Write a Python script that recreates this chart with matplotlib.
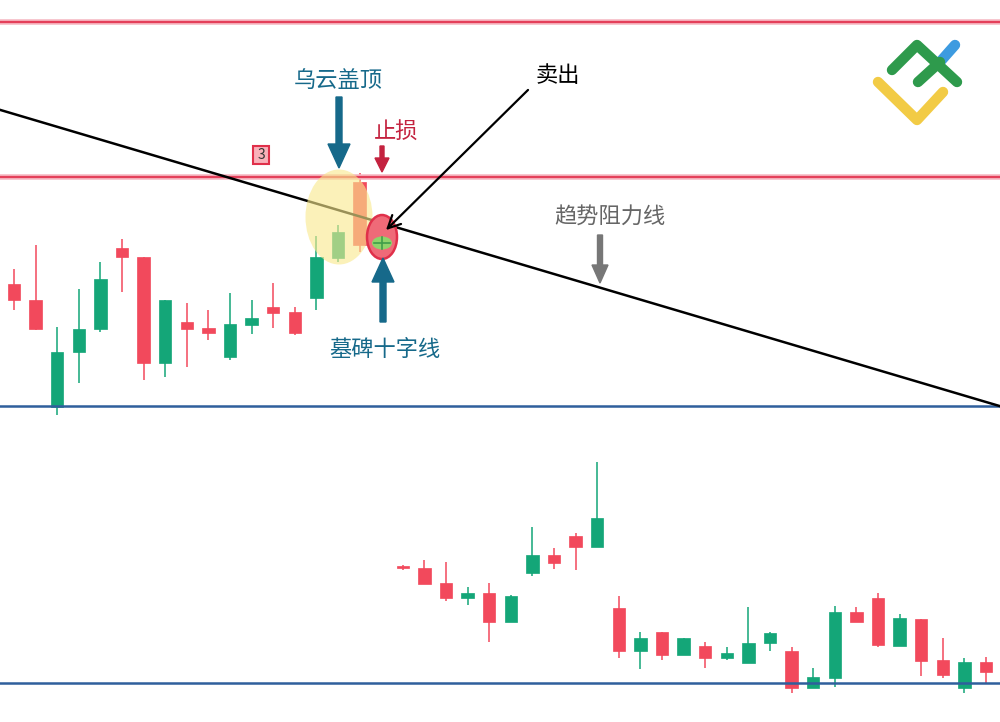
import matplotlib
matplotlib.use('Agg')
import matplotlib.pyplot as plt
import matplotlib.patches as patches

plt.rcParams['font.family'] = ['Noto Sans CJK SC', 'DejaVu Sans']

# candle data (price units), one row per bar
opens = [438, 422, 315, 370, 393, 474, 465, 359, 400, 394, 365, 397, 415, 410, 424, 464, 540, 479,
         156, 154, 139, 124, 129, 100, 149, 167, 186, 175, 114, 71, 90, 67, 76, 64, 59, 79,
         71, 34, 44, 110, 124, 76, 103, 62, 34, 60]
highs = [453, 477, 395, 433, 460, 483, 465, 422, 419, 412, 429, 422, 439, 415, 486, 497, 549, 486,
         157, 162, 160, 135, 139, 127, 195, 174, 189, 260, 126, 90, 90, 84, 80, 75, 115, 90,
         75, 54, 116, 115, 129, 108, 103, 84, 64, 65]
lows = [412, 392, 307, 339, 390, 430, 342, 345, 355, 382, 362, 388, 394, 387, 412, 460, 470, 472,
        152, 138, 121, 117, 80, 100, 146, 153, 152, 175, 64, 53, 62, 67, 54, 62, 59, 71,
        29, 34, 35, 100, 75, 76, 46, 44, 29, 39]
closes = [422, 393, 370, 393, 443, 465, 359, 422, 393, 389, 398, 404, 409, 389, 465, 490, 477, 480,
          154, 138, 124, 129, 100, 126, 167, 159, 175, 204, 71, 84, 67, 84, 64, 69, 79, 89,
          34, 45, 110, 100, 77, 104, 61, 47, 60, 50]

resistance_levels = [700, 545]
support_levels = [316, 39]
trend_points = [(0, 608), (45, 320)]

labels = {'cloud': '乌云盖顶', 'stop': '止损', 'sell': '卖出',
          'trend': '趋势阻力线', 'doji': '墓碑十字线', 'num': '3'}

RED = '#f2495c'
GREEN = '#14a678'

fig = plt.figure(figsize=(10, 7.22), dpi=100)
ax = fig.add_axes([0, 0, 1, 1])
ax.set_xlim(-14 / 21.6, (1000 - 14) / 21.6)
ax.set_ylim(0, 722)
ax.axis('off')

for i in range(len(opens)):
    o, h, l, c = opens[i], highs[i], lows[i], closes[i]
    col = GREEN if c >= o else RED
    ax.plot([i, i], [l, h], color=col, lw=1.1, zorder=2, solid_capstyle='butt')
    ax.add_patch(patches.Rectangle((i - 0.29, min(o, c)), 0.58, max(abs(c - o), 1.5),
                                   facecolor=col, edgecolor=col, lw=0.5, zorder=3))

for lv in resistance_levels:
    ax.axhline(lv, color='#f6b8c2', lw=4, zorder=4)
    ax.axhline(lv, color='#e4405a', lw=1.6, zorder=5)
for lv in support_levels:
    ax.axhline(lv, color='#2f5f9c', lw=1.8, zorder=5)
ax.axline(trend_points[0], trend_points[1], color='black', lw=1.8, zorder=6)

# annotation overlay in pixel coordinates
ov = fig.add_axes([0, 0, 1, 1])
ov.set_xlim(0, 1000)
ov.set_ylim(722, 0)
ov.axis('off')

ov.add_patch(patches.Ellipse((339, 217), 67, 95, facecolor='#f9e98e', alpha=0.62,
                             edgecolor='none', zorder=3))
ov.add_patch(patches.Ellipse((382, 237), 30, 44, facecolor='#ef6a78',
                             edgecolor='#e0304a', lw=1.8, zorder=4))
ov.add_patch(patches.Ellipse((382, 243), 20, 13, facecolor='#8fd36a', edgecolor='none', zorder=5))
ov.plot([374, 390], [243, 243], color='#3f9e4a', lw=1.2, zorder=6)
ov.plot([382, 382], [237, 249], color='#3f9e4a', lw=1.2, zorder=6)

TEAL = '#16698a'
ov.add_patch(patches.FancyArrow(339, 97, 0, 71, width=6, head_width=22, head_length=24,
                                length_includes_head=True, color=TEAL, zorder=7))
ov.add_patch(patches.FancyArrow(383, 322, 0, -64, width=6, head_width=22, head_length=24,
                                length_includes_head=True, color=TEAL, zorder=7))
ov.add_patch(patches.FancyArrow(382, 146, 0, 26, width=4, head_width=14, head_length=14,
                                length_includes_head=True, color='#c4223f', zorder=7))
ov.add_patch(patches.FancyArrow(600, 235, 0, 48, width=5, head_width=16, head_length=18,
                                length_includes_head=True, color='#777777', zorder=7))
ov.annotate('', xy=(384, 232), xytext=(530, 88),
            arrowprops=dict(arrowstyle='->,head_width=0.45,head_length=0.9',
                            color='black', lw=1.6), zorder=8)

ov.text(338, 80, labels['cloud'], color=TEAL, fontsize=16, ha='center', va='center', zorder=8)
ov.text(385, 350, labels['doji'], color=TEAL, fontsize=16, ha='center', va='center', zorder=8)
ov.text(396, 131, labels['stop'], color='#c4223f', fontsize=16, ha='center', va='center', zorder=8)
ov.text(610, 216, labels['trend'], color='#666666', fontsize=16, ha='center', va='center', zorder=8)
ov.text(558, 75, labels['sell'], color='black', fontsize=16, ha='center', va='center', zorder=8,
        bbox=dict(facecolor='white', edgecolor='none', pad=4))

ov.add_patch(patches.Rectangle((253, 146), 16, 18, facecolor='#f9b1ba', edgecolor='#e0304a',
                               lw=1.5, zorder=7))
ov.text(261, 155, labels['num'], color='#333333', fontsize=10, ha='center', va='center', zorder=8)

# logo
ov.plot([878, 917, 943], [82, 120, 92], color='#f2cb45', lw=7.5, solid_capstyle='round', zorder=7)
ov.plot([940, 955], [62, 45], color='#3d9be0', lw=7.5, solid_capstyle='round', zorder=7)
ov.plot([892, 917, 957], [70, 45, 82], color='#2e9a4c', lw=7.5, solid_capstyle='round',
        solid_joinstyle='round', zorder=8)
ov.plot([918, 940], [82, 62], color='#2e9a4c', lw=7.5, solid_capstyle='round', zorder=8)

fig.savefig('out.png', dpi=100)
